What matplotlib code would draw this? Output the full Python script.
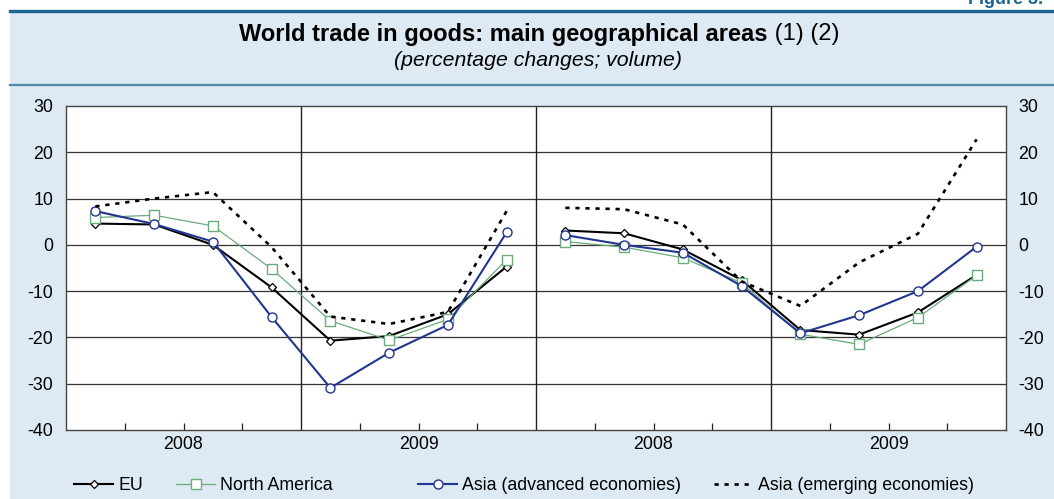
import matplotlib
matplotlib.use("Agg")
import matplotlib.pyplot as plt
from matplotlib import font_manager
from matplotlib.lines import Line2D
from matplotlib.patches import Rectangle
import numpy as np

# ---------------- data ----------------
quarters = ["Q1", "Q2", "Q3", "Q4", "Q1", "Q2", "Q3", "Q4"]
year_labels = ["2008", "2009", "2008", "2009"]
y_ticks = [-40, -30, -20, -10, 0, 10, 20, 30]

# left panel
eu_left = [4.6, 4.4, 0.0, -9.2, -20.7, -19.7, -15.0, -4.7]
na_left = [5.9, 6.4, 4.1, -5.2, -16.4, -20.6, -16.1, -3.2]
asia_adv_left = [7.3, 4.5, 0.7, -15.6, -30.9, -23.3, -17.3, 2.7]
asia_em_left = [8.3, 10.0, 11.4, -0.5, -15.5, -17.1, -14.5, 7.3]

# right panel
eu_right = [3.1, 2.5, -1.0, -7.6, -18.4, -19.4, -14.6, -6.5]
na_right = [0.7, -0.5, -2.8, -8.2, -19.3, -21.5, -15.7, -6.6]
asia_adv_right = [2.1, 0.0, -1.7, -8.9, -19.1, -15.2, -10.0, -0.4]
asia_em_right = [8.0, 7.7, 4.4, -7.9, -13.2, -3.8, 2.4, 22.8]

series_names = ["EU", "North America", "Asia (advanced economies)",
                "Asia (emerging economies)"]

# ---------------- fonts ----------------
avail = {f.name for f in font_manager.fontManager.ttflist}
base_font = "Liberation Sans" if "Liberation Sans" in avail else "DejaVu Sans"
plt.rcParams["font.family"] = [base_font, "DejaVu Sans"]
plt.rcParams["axes.unicode_minus"] = False

BG = "#dde9f3"
fig = plt.figure(figsize=(10.54, 4.99), dpi=100)
fig.patch.set_facecolor("white")
W, H = 1054, 499

def fx(px):
    return px / W

def fy(py):
    return 1 - py / H

fig.add_artist(Rectangle((fx(10), 0), 1 - fx(10), fy(11), transform=fig.transFigure,
                         facecolor=BG, edgecolor="none", zorder=-10))
fig.add_artist(Line2D([fx(10), 1], [fy(11), fy(11)], transform=fig.transFigure,
                      color="#1b6593", lw=2.4))
fig.add_artist(Line2D([fx(10), 1], [fy(85), fy(85)], transform=fig.transFigure,
                      color="#4e89ac", lw=1.6))

fig.text(fx(968), fy(4), "Figure 3.", fontsize=13, fontweight="bold",
         color="#1b6593", ha="left", va="baseline")

# title: bold part + regular "(1) (2)"
TS = 17
t1 = fig.text(fx(238), fy(34), "World trade in goods: main geographical areas",
              fontsize=TS, fontweight="bold", ha="left", va="center")
t2 = fig.text(fx(238), fy(34), " (1) (2)", fontsize=TS, ha="left", va="center")
fig.canvas.draw()
r = fig.canvas.get_renderer()
b1 = t1.get_window_extent(r)
b2 = t2.get_window_extent(r)
total = b1.width + b2.width
start = 539 - total / 2
t1.set_x(fx(start))
t2.set_x(fx(start + b1.width))

fig.text(fx(538), fy(61), "(percentage changes; volume)", fontsize=15.3,
         style="italic", ha="center", va="center")

# ---------------- axes ----------------
ax = fig.add_axes([fx(66), fy(430), fx(1006) - fx(66), fy(106) - fy(430)])
ax.set_facecolor("white")
ax.set_xlim(0, 16)
ax.set_ylim(-40, 30)

x_left = np.arange(len(quarters)) + 0.5
x_right = x_left + 8

styles = [
    dict(color="black", lw=1.5, marker="D", ms=4.2, mfc="white", mec="black", mew=0.9),
    dict(color="#6aab7b", lw=0.9, marker="s", ms=7, mfc="white", mec="#6aab7b", mew=1.0),
    dict(color="#22368f", lw=1.5, marker="o", ms=6.5, mfc="white", mec="#22368f", mew=1.0),
    dict(color="black", lw=1.9, linestyle=(0, (1.6, 2.2))),
]
left_data = [eu_left, na_left, asia_adv_left, asia_em_left]
right_data = [eu_right, na_right, asia_adv_right, asia_em_right]

handles = []
for name, st, dl, dr in zip(series_names, styles, left_data, right_data):
    h, = ax.plot(x_left, dl, label=name, zorder=3, **st)
    ax.plot(x_right, dr, zorder=3, **st)
    handles.append(h)

# grid and dividers
for yv in y_ticks[1:-1]:
    ax.axhline(yv, color="#333333", lw=0.9, zorder=1)
for xv in [4, 8, 12]:
    ax.axvline(xv, color="#222222", lw=1.0, zorder=1)

ax.set_yticks(y_ticks)
ax.tick_params(axis="y", length=0, labelsize=12.8, pad=9, labelright=True,
               labelleft=True)
ax.set_xticks([2, 6, 10, 14])
ax.set_xticklabels(year_labels)
ax.set_xticks([1, 3, 5, 7, 9, 11, 13, 15], minor=True)
ax.tick_params(axis="x", which="both", direction="in", length=5, width=0.9,
               labelsize=12.8, pad=4, color="#222222")
for sp in ax.spines.values():
    sp.set_color("#444444")
    sp.set_linewidth(1.0)

# legend: four individually placed entries
leg_pos = [74, 176, 418, 714]
for h, px in zip(handles, leg_pos):
    fig.legend([h], [h.get_label()], loc="center left",
               bbox_to_anchor=(fx(px), fy(486)), frameon=False,
               fontsize=12.8, handlelength=2.2, handletextpad=0.3,
               borderaxespad=0, borderpad=0.0)

fig.savefig("out.png", dpi=100, facecolor=fig.get_facecolor())
